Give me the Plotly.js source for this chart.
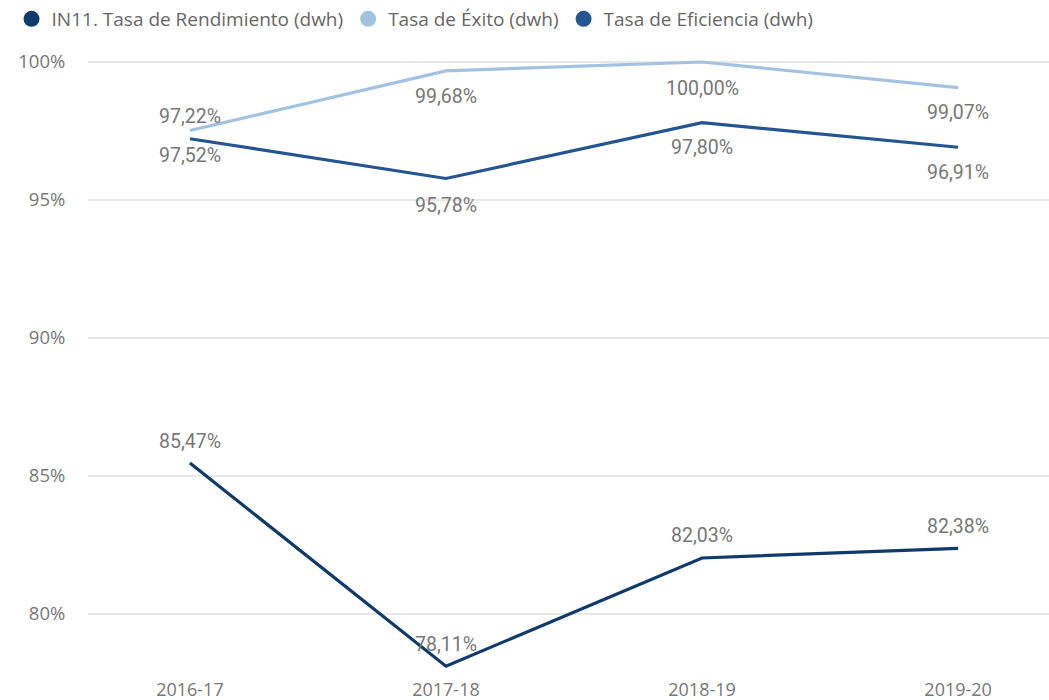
<!DOCTYPE html>
<html>
<head>
<meta charset="utf-8">
<script src="https://cdn.plot.ly/plotly-3.0.1.min.js"></script>
<style>html,body{margin:0;padding:0;background:#fff;}#chart{width:1049px;height:700px;}</style>
</head>
<body>
<div id="chart"></div>
<script>
const categories = ['2016-17', '2017-18', '2018-19', '2019-20'];
const seriesNames = ['IN11. Tasa de Rendimiento (dwh)', 'Tasa de Éxito (dwh)', 'Tasa de Eficiencia (dwh)'];
const rendimiento = [85.47, 78.11, 82.03, 82.38];
const exito = [97.52, 99.68, 100.00, 99.07];
const eficiencia = [97.22, 95.78, 97.80, 96.91];
const yTickVals = [80, 85, 90, 95, 100];
const yTickText = ['80%', '85%', '90%', '95%', '100%'];

const colors = ['#0f3a6a', '#a3c2e1', '#245591'];
const allSeries = [rendimiento, exito, eficiencia];
// label vertical offsets in px (positive = above)
const labelShift = [
  [22, 22, 22, 22],
  [-25, -26, -26, -25],
  [22, -27, -25, -25]
];

const fmt = v => v.toFixed(2).replace('.', ',') + '%';

const traces = [];
allSeries.forEach((vals, i) => {
  traces.push({
    x: categories, y: vals, type: 'scatter', mode: 'lines',
    line: {color: colors[i], width: 3.2}, showlegend: false, hoverinfo: 'skip'
  });
});
allSeries.forEach((vals, i) => {
  traces.push({
    x: [null], y: [null], type: 'scatter', mode: 'markers', name: seriesNames[i],
    marker: {color: colors[i], size: 18, symbol: 'circle'}, showlegend: true
  });
});

const annotations = [];
allSeries.forEach((vals, i) => {
  vals.forEach((v, j) => {
    annotations.push({
      x: categories[j], y: v, xref: 'x', yref: 'y', text: fmt(v), showarrow: false,
      yshift: labelShift[i][j], font: {family: 'Roboto, "DejaVu Sans", sans-serif', size: 19.5, color: '#777777'}
    });
  });
});

const layout = {
  width: 1049, height: 700,
  margin: {l: 88, r: 0, t: 40, b: 28},
  paper_bgcolor: '#ffffff', plot_bgcolor: '#ffffff',
  showlegend: true,
  legend: {
    orientation: 'h', xref: 'container', yref: 'container', x: 0.011, y: 1.0, xanchor: 'left', yanchor: 'top',
    font: {family: '"Open Sans", "Noto Sans", sans-serif', size: 19, color: '#666666'},
    itemwidth: 30, tracegroupgap: 0, bgcolor: 'rgba(0,0,0,0)'
  },
  xaxis: {
    type: 'category', range: [-0.398, 3.355], showgrid: false, zeroline: false, showline: false,
    ticks: 'outside', ticklen: 1, tickcolor: 'rgba(0,0,0,0)',
    tickfont: {family: '"Open Sans", "Noto Sans", sans-serif', size: 18, color: '#777777'}
  },
  yaxis: {
    range: [77.899, 100.797], tickvals: yTickVals, ticktext: yTickText,
    showgrid: true, gridcolor: '#e8e8e8', gridwidth: 1.5, zeroline: false, showline: false,
    ticks: 'outside', ticklen: 18, tickcolor: 'rgba(0,0,0,0)',
    tickfont: {family: '"Open Sans", "Noto Sans", sans-serif', size: 18.5, color: '#777777'}
  },
  annotations: annotations,
  hovermode: false
};

Plotly.newPlot('chart', traces, layout, {displayModeBar: false, staticPlot: true});
</script>
</body>
</html>
